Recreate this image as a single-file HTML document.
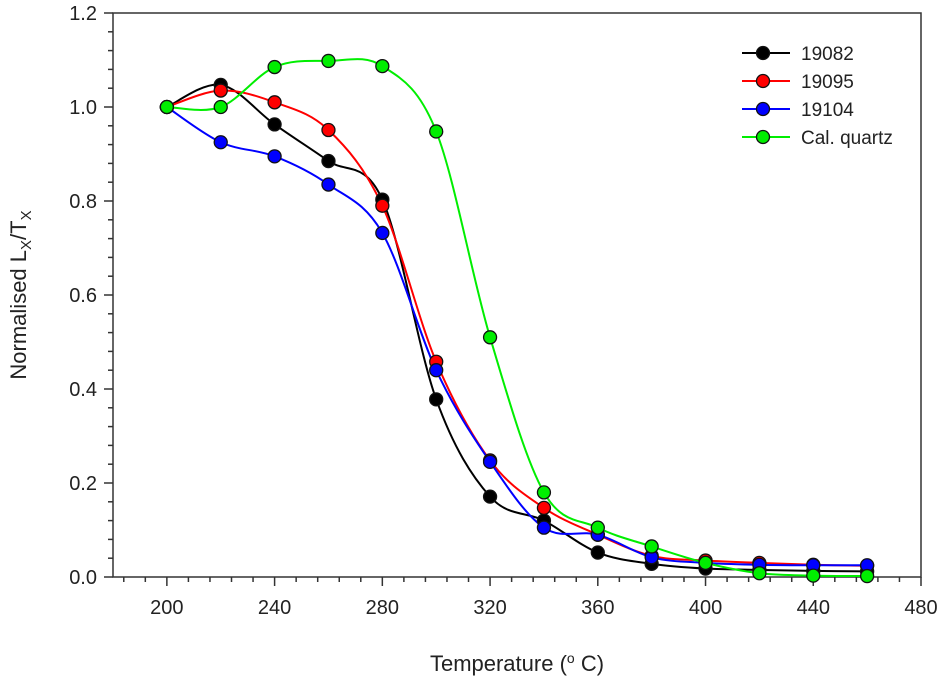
<!DOCTYPE html>
<html><head><meta charset="utf-8"><style>body{margin:0;background:#fff}svg{display:block}text{font-family:"Liberation Sans",Arial,sans-serif;fill:#222}</style></head>
<body>
<svg id="s" width="943" height="679" xmlns="http://www.w3.org/2000/svg">
<rect x="113" y="13" width="808" height="564" fill="none" stroke="#333" stroke-width="1.5"/>
<g id="ax" stroke="#333" stroke-width="1.5"></g>
<g id="lab" font-size="20"></g>
<text x="517" y="671" font-size="22" text-anchor="middle">Temperature (<tspan font-size="14" dy="-8">o</tspan><tspan dy="8"> C)</tspan></text>
<text transform="translate(26,295) rotate(-90)" font-size="22" text-anchor="middle">Normalised L<tspan font-size="15" dy="5">X</tspan><tspan dy="-5">/T</tspan><tspan font-size="15" dy="5">X</tspan></text>
<g id="series"></g>
<g id="leg" font-size="19"></g>
</svg>
<script>
const NS="http://www.w3.org/2000/svg";
const X=v=>113+(v-180)*808/300, Y=v=>577-v*470;
function el(p,t,a,txt){const e=document.createElementNS(NS,t);for(const k in a)e.setAttribute(k,a[k]);if(txt!==undefined)e.textContent=txt;p.appendChild(e);return e;}
const ax=document.getElementById('ax'),lab=document.getElementById('lab');
for(let v=184;v<=480;v+=8){const x=X(v);const maj=(v-200)%40==0;el(ax,'line',{x1:x,x2:x,y1:577,y2:577+(maj?9:5)});}
for(let v=200;v<=480;v+=40)el(lab,'text',{x:X(v),y:614,'text-anchor':'middle'},String(v));
for(let i=0;i<=30;i++){const v=i*0.04;const y=Y(v);const maj=i%5==0;el(ax,'line',{x1:113,x2:113-(maj?9:5),y1:y,y2:y});if(maj)el(lab,'text',{x:97,y:y+7,'text-anchor':'end'},(v).toFixed(1));}
const T=[200,220,240,260,280,300,320,340,360,380,400,420,440,460];
const S=[
["#000",[1.0,1.047,0.963,0.885,0.803,0.378,0.171,0.12,0.052,0.028,0.018,0.015,0.013,0.012]],
["#f00",[1.0,1.035,1.01,0.951,0.79,0.458,0.248,0.147,0.09,0.045,0.035,0.03,0.026,0.024]],
["#00f",[1.0,0.925,0.895,0.835,0.732,0.44,0.245,0.105,0.09,0.042,0.03,0.026,0.025,0.025]],
["#0e0",[1.0,1.0,1.085,1.098,1.087,0.948,0.51,0.18,0.105,0.065,0.03,0.008,0.003,0.002]]];
const g=document.getElementById('series');
S.forEach(([c,d])=>{const p=T.map((t,i)=>[X(t),Y(d[i])]);let s=`M${p[0]}`;
for(let i=0;i<p.length-1;i++){const a=p[Math.max(i-1,0)],b=p[i],q=p[i+1],e=p[Math.min(i+2,p.length-1)];
s+=`C${b[0]+(q[0]-a[0])/6},${b[1]+(q[1]-a[1])/6} ${q[0]-(e[0]-b[0])/6},${q[1]-(e[1]-b[1])/6} ${q[0]},${q[1]}`;}
el(g,'path',{d:s,fill:'none',stroke:c,'stroke-width':2});});
S.forEach(([c,d])=>T.forEach((t,i)=>el(g,'circle',{cx:X(t),cy:Y(d[i]),r:6.5,fill:c,stroke:'#111','stroke-width':1.3})));
const lg=document.getElementById('leg');const names=["19082","19095","19104","Cal. quartz"];
names.forEach((n,i)=>{const y=53+i*28;el(lg,'line',{x1:742,x2:790,y1:y,y2:y,stroke:S[i][0],'stroke-width':2});
el(lg,'circle',{cx:763,cy:y,r:6.5,fill:S[i][0],stroke:'#111','stroke-width':1.3});el(lg,'text',{x:801,y:y+7},n);});
</script>
</body></html>
